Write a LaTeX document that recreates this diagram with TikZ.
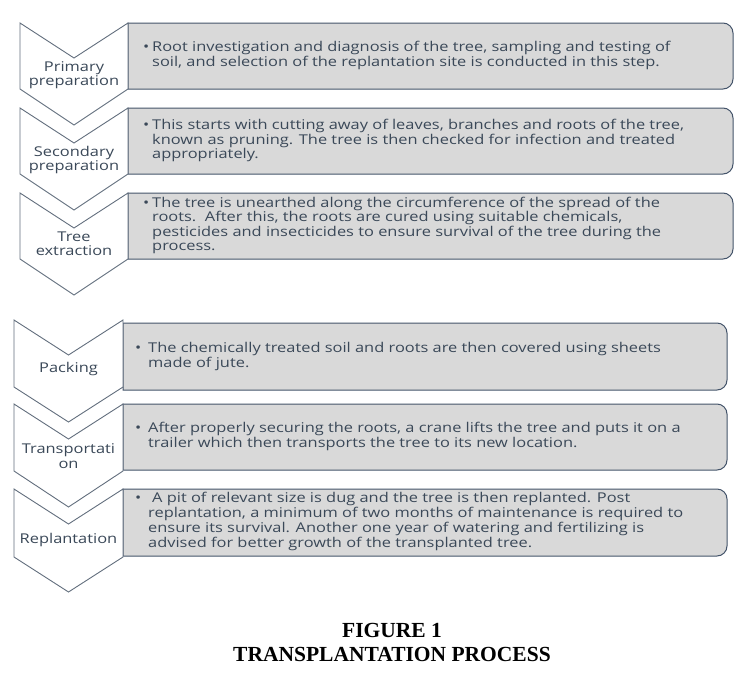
\documentclass[tikz,border=0pt]{standalone}
\usepackage{fontspec}
\setmainfont{Liberation Serif}
\newfontfamily\stepfont[FakeStretch=1.215]{Open Sans}
\usepackage{tikz}
\usetikzlibrary{positioning}

\definecolor{BoxLine}{HTML}{44546A}
\definecolor{BoxFill}{HTML}{D9D9D9}
\definecolor{ChevLine}{HTML}{626E7D}
\definecolor{StepText}{HTML}{3A4858}

\begin{document}
\begin{tikzpicture}[x=1pt,y=1pt]
		\tikzstyle{Chevron}	= [draw=ChevLine, fill=white, line width=0.9pt, line join=miter]
		\tikzstyle{Box}		= [draw=BoxLine, fill=BoxFill, line width=1pt]
		\tikzstyle{Label}	= [align=center, inner sep=0pt, text=StepText, font=\stepfont\fontsize{13.5}{14.4}\selectfont]
		\tikzstyle{Txt}		= [anchor=west, inner sep=0pt, text=StepText, font=\stepfont\fontsize{13.5}{14.5}\selectfont]
		\tikzstyle{Caption}	= [inner sep=0pt, font=\bfseries\fontsize{21.5}{24}\selectfont]

		\useasboundingbox (0,0) rectangle (742,-683);

		% first group
		\draw [Box] (128,-23) -- (723,-23) arc (90:0:10pt) -- (733,-79) arc (0:-90:10pt) -- (128,-89) -- cycle;
		\draw [Box] (128,-108) -- (723,-108) arc (90:0:10pt) -- (733,-164) arc (0:-90:10pt) -- (128,-174) -- cycle;
		\draw [Box] (128,-193) -- (723,-193) arc (90:0:10pt) -- (733,-249) arc (0:-90:10pt) -- (128,-259) -- cycle;

		\draw [Chevron] (20,-23) -- (74,-58) -- (128,-23) -- (128,-89) -- (74,-125) -- (20,-89) -- cycle;
		\draw [Chevron] (20,-108) -- (74,-143) -- (128,-108) -- (128,-174) -- (74,-210) -- (20,-174) -- cycle;
		\draw [Chevron] (20,-193) -- (74,-228) -- (128,-193) -- (128,-259) -- (74,-295) -- (20,-259) -- cycle;

		% second group
		\draw [Box] (123,-323) -- (717,-323) arc (90:0:10pt) -- (727,-380) arc (0:-90:10pt) -- (123,-390) -- cycle;
		\draw [Box] (123,-404) -- (717,-404) arc (90:0:10pt) -- (727,-460) arc (0:-90:10pt) -- (123,-470) -- cycle;
		\draw [Box] (123,-489) -- (717,-489) arc (90:0:10pt) -- (727,-546) arc (0:-90:10pt) -- (123,-556) -- cycle;

		\draw [Chevron] (14,-320) -- (68.5,-355) -- (123,-320) -- (123,-387) -- (68.5,-422) -- (14,-387) -- cycle;
		\draw [Chevron] (14,-404) -- (68.5,-439) -- (123,-404) -- (123,-471) -- (68.5,-507) -- (14,-471) -- cycle;
		\draw [Chevron] (14,-489) -- (68.5,-524) -- (123,-489) -- (123,-557) -- (68.5,-592) -- (14,-557) -- cycle;

		% step names
		\node (p1) at (74,-75) [Label] {Primary\\preparation};
		\node (p2) at (74,-160) [Label] {Secondary\\preparation};
		\node (p3) at (74,-244) [Label] {Tree\\extraction};
		\node (p4) at (68.5,-369) [Label] {Packing};
		\node (p5) at (68.5,-456) [Label] {Transportati\\on};
		\node (p6) at (68.5,-540) [Label] {Replantation};

		% step texts
		\node (t1) at (143,-56) [Txt] {\begin{tabular}{@{}p{9pt}@{}l@{}}
			\textbullet & Root investigation and diagnosis of the tree, sampling and testing of\\
			& soil, and selection of the replantation site is conducted in this step.\end{tabular}};
		\node (t2) at (143,-141) [Txt] {\begin{tabular}{@{}p{9pt}@{}l@{}}
			\textbullet & This starts with cutting away of leaves, branches and roots of the tree,\\
			& known as pruning. The tree is then checked for infection and treated\\
			& appropriately.\end{tabular}};
		\node (t3) at (143,-226) [Txt] {\begin{tabular}{@{}p{9pt}@{}l@{}}
			\textbullet & The tree is unearthed along the circumference of the spread of the\\
			& roots.\ \ After this, the roots are cured using suitable chemicals,\\
			& pesticides and insecticides to ensure survival of the tree during the\\
			& process.\end{tabular}};
		\node (t4) at (135,-357) [Txt] {\begin{tabular}{@{}p{13pt}@{}l@{}}
			\textbullet & The chemically treated soil and roots are then covered using sheets\\
			& made of jute.\end{tabular}};
		\node (t5) at (135,-437) [Txt] {\begin{tabular}{@{}p{13pt}@{}l@{}}
			\textbullet & After properly securing the roots, a crane lifts the tree and puts it on a\\
			& trailer which then transports the tree to its new location.\end{tabular}};
		\node (t6) at (135,-522) [Txt] {\begin{tabular}{@{}p{13pt}@{}l@{}}
			\textbullet & \hspace{4pt}A pit of relevant size is dug and the tree is then replanted. Post\\
			& replantation, a minimum of two months of maintenance is required to\\
			& ensure its survival. Another one year of watering and fertilizing is\\
			& advised for better growth of the transplanted tree.\end{tabular}};

		% caption
		\node (fig) at (392,-630) [Caption] {FIGURE 1};
		\node (cap) [Caption, below=10pt of fig] {TRANSPLANTATION PROCESS};
	\end{tikzpicture}
\end{document}
